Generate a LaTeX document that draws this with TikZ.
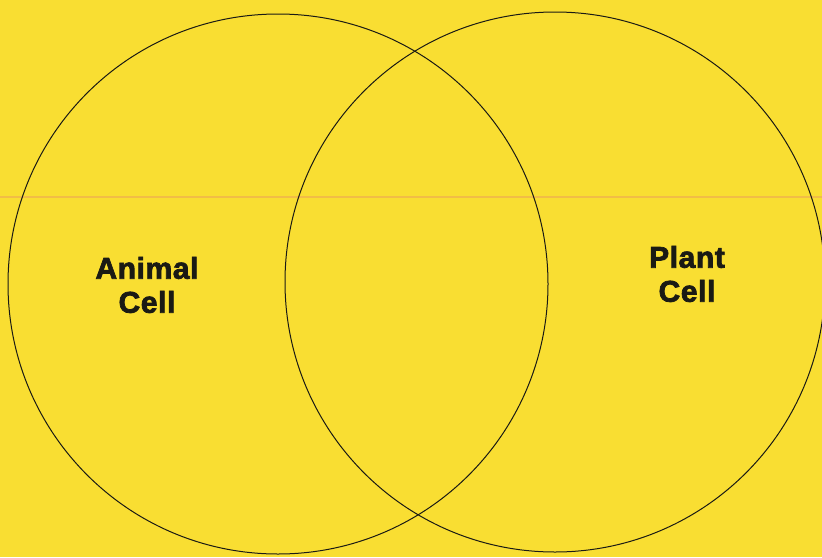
\documentclass[tikz,border=0pt]{standalone}
\usepackage{fontspec}
\setmainfont{Liberation Sans}
\newfontfamily\heavyfont[BoldFeatures={FakeBold=2.5}, LetterSpace=2]{Liberation Sans}
\usepackage{tikz}
\usetikzlibrary{positioning}
\usepackage{xcolor}
\definecolor{paperyellow}{HTML}{F9DE32}
\definecolor{foldline}{HTML}{F0B24E}
\definecolor{inkblack}{HTML}{1A1A14}

\begin{document}
\begin{tikzpicture}[
  x=1pt, y=-1pt,
  ring/.style={circle, draw=inkblack, line width=1pt, inner sep=0pt,
               minimum size=540pt},
  lbl/.style={font=\heavyfont\fontsize{30}{34}\selectfont\bfseries, text=inkblack,
              align=center, inner sep=0pt}
]

% ---------- Paper ----------
\fill[paperyellow] (0,0) rectangle (822,557);
\useasboundingbox (0,0) rectangle (822,557);
\coordinate (foldL) at (0,197);
\coordinate (foldR) at (822,197);
\draw[foldline, line width=1.4pt, opacity=0.75] (foldL) -- (foldR);

% ---------- Circles ----------
\node[ring] (animal) at (278,284) {};
\node[ring] (plant) at (555,282) {};

% ---------- Labels ----------
\node[lbl] (animaltxt) at (147,285) {Animal\\Cell};
\node[lbl] (planttxt) at (687,274) {Plant\\Cell};

\end{tikzpicture}
\end{document}
